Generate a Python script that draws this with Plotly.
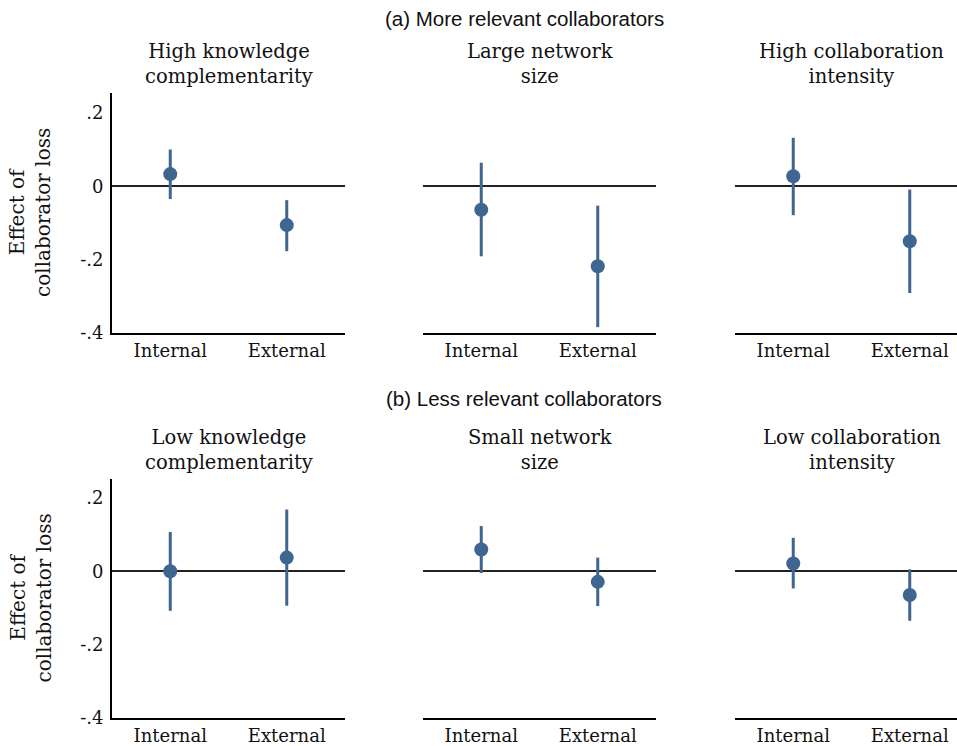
import plotly.graph_objects as go

categories = ["Internal", "External"]

panel_titles = [
    "High knowledge<br>complementarity",
    "Large network<br>size",
    "High collaboration<br>intensity",
    "Low knowledge<br>complementarity",
    "Small network<br>size",
    "Low collaboration<br>intensity",
]
section_titles = ["(a) More relevant collaborators", "(b) Less relevant collaborators"]

# point estimates (Internal, External) per panel
estimates = [
    [0.033, -0.106],
    [-0.064, -0.218],
    [0.027, -0.150],
    [0.000, 0.037],
    [0.059, -0.029],
    [0.021, -0.065],
]
ci_upper = [
    [0.100, -0.038],
    [0.064, -0.053],
    [0.132, -0.009],
    [0.107, 0.168],
    [0.123, 0.037],
    [0.091, 0.005],
]
ci_lower = [
    [-0.035, -0.177],
    [-0.191, -0.384],
    [-0.079, -0.291],
    [-0.108, -0.094],
    [-0.005, -0.095],
    [-0.047, -0.135],
]

y_tickvals = [-0.4, -0.2, 0, 0.2]
y_ticktext = ["-.4", "-.2", "0", ".2"]

W, H = 957, 746          # reference frame
FIG_H = 756              # rendered figure height
COLOR = "#3f6591"
SERIF = "DejaVu Serif"
SANS = "Liberation Sans"

col_px = [(112, 345), (423, 656), (735, 968)]
row_px = [(93, 333), (479, 718)]

fig = go.Figure()
layout = dict(
    width=W, height=FIG_H, margin=dict(l=0, r=0, t=0, b=0),
    plot_bgcolor="white", paper_bgcolor="white", showlegend=False,
)
annotations = []

for i in range(6):
    r, c = divmod(i, 3)
    k = i + 1
    xa = "x" if k == 1 else f"x{k}"
    ya = "y" if k == 1 else f"y{k}"
    est = estimates[i]
    up = [ci_upper[i][j] - est[j] for j in range(2)]
    lo = [est[j] - ci_lower[i][j] for j in range(2)]
    fig.add_trace(go.Scatter(
        x=[0, 1], y=est, mode="markers", xaxis=xa, yaxis=ya,
        marker=dict(color=COLOR, size=14),
        error_y=dict(type="data", symmetric=False, array=up, arrayminus=lo,
                     color=COLOR, thickness=3, width=0),
    ))
    x0, x1 = col_px[c]
    y0, y1 = row_px[r]
    xdom = [x0 / W, min(x1, W) / W]
    xmax = -0.5 + 2.0 * (min(x1, W) - x0) / (x1 - x0)
    ydom = [1 - y1 / H, 1 - y0 / H]
    # scale: 0.1 per 36.7 px
    ytop = -0.4 + (y1 - y0) / 367.0
    axis_suffix = "" if k == 1 else str(k)
    layout["xaxis" + axis_suffix] = dict(
        domain=xdom, range=[-0.5, xmax], anchor=ya,
        tickvals=[0, 1], ticktext=categories,
        showline=True, linecolor="black", linewidth=2,
        showgrid=False, zeroline=False, ticks="",
        tickfont=dict(family=SERIF, size=18, color="#111"),
    )
    layout["yaxis" + axis_suffix] = dict(
        domain=ydom, range=[-0.4, ytop], anchor=xa,
        tickvals=y_tickvals, ticktext=y_ticktext,
        showticklabels=(c == 0), showline=(c == 0), linecolor="black", linewidth=2,
        showgrid=False, zeroline=True, zerolinecolor="#222", zerolinewidth=1.8,
        ticks="outside" if c == 0 else "", ticklen=3, tickcolor="white",
        tickfont=dict(family=SERIF, size=18, color="#111"),
    )
    annotations.append(dict(
        text=panel_titles[i], x=((x0 + x1) / 2) / W, y=1 - (64 if r == 0 else 450) / H,
        xref="paper", yref="paper", xanchor="center", yanchor="middle",
        showarrow=False, font=dict(family=SERIF, size=19.5, color="#111"),
    ))

for r in range(2):
    annotations.append(dict(
        text=section_titles[r], x=524 / W, y=1 - (18 if r == 0 else 398) / H,
        xref="paper", yref="paper", xanchor="center", yanchor="middle",
        showarrow=False, font=dict(family=SANS, size=20.5, color="#111"),
    ))
    y0, y1 = row_px[r]
    annotations.append(dict(
        text="Effect of<br>collaborator loss", textangle=-90,
        x=30 / W, y=1 - ((y0 + y1) / 2) / H,
        xref="paper", yref="paper", xanchor="center", yanchor="middle",
        showarrow=False, font=dict(family=SERIF, size=20, color="#111"),
    ))

layout["annotations"] = annotations
fig.update_layout(**layout)
page_css = (
    "document.documentElement.style.margin='0';"
    "document.body.style.margin='0';"
    "document.body.style.overflow='hidden';"
)
fig.write_html("out.html", post_script=page_css,
               config={"displayModeBar": False, "staticPlot": True})
